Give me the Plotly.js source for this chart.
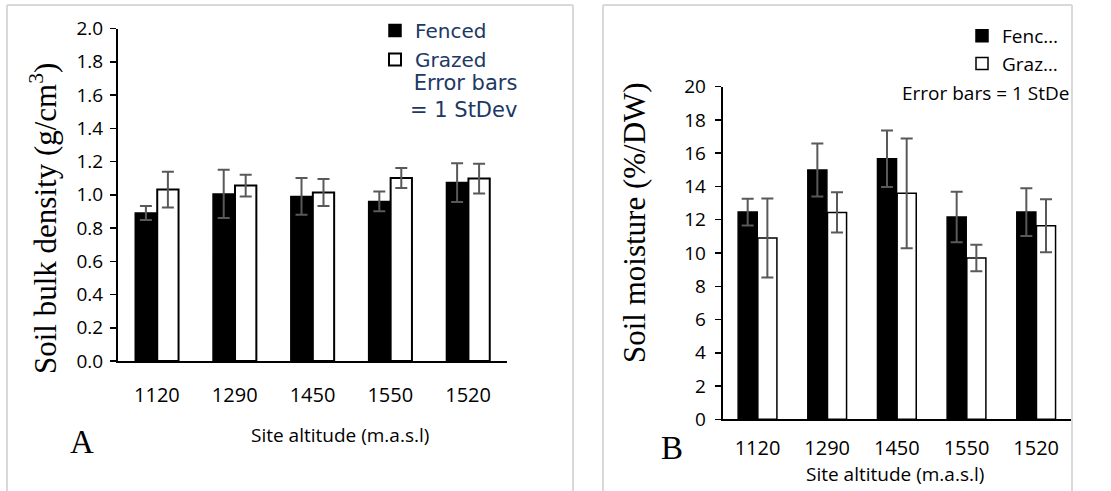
<!DOCTYPE html>
<html>
<head>
<meta charset="utf-8">
<script src="https://cdn.plot.ly/plotly-3.0.1.min.js"></script>
<style>html,body{margin:0;padding:0;background:#fff;}#chart{width:1111px;height:491px;}</style>
</head>
<body>
<div id="chart"></div>
<script>
// ---- data ----
const sites = ["1120", "1290", "1450", "1550", "1520"];
const densityFenced = [0.89, 1.005, 0.99, 0.96, 1.073];
const densityFencedSD = [0.042, 0.145, 0.111, 0.059, 0.117];
const densityGrazed = [1.031, 1.055, 1.013, 1.101, 1.097];
const densityGrazedSD = [0.107, 0.066, 0.081, 0.060, 0.090];
const moistureFenced = [12.46, 14.99, 15.67, 12.16, 12.46];
const moistureFencedSD = [0.80, 1.60, 1.70, 1.52, 1.44];
const moistureGrazed = [10.90, 12.44, 13.59, 9.70, 11.64];
const moistureGrazedSD = [2.38, 1.21, 3.30, 0.80, 1.59];

// ---- layout helpers (pixels -> paper) ----
const W = 1111, H = 491;
const px = x => x / W;
const py = y => 1 - y / H;

const errStyle = (arr) => ({type: 'data', array: arr, visible: true, color: '#595959', thickness: 2, width: 6});

const traces = [
  {type: 'bar', name: 'Fenced', x: sites, y: densityFenced, error_y: errStyle(densityFencedSD),
   marker: {color: '#000000', line: {color: '#000000', width: 1.5}}, xaxis: 'x', yaxis: 'y', legend: 'legend'},
  {type: 'bar', name: 'Grazed', x: sites, y: densityGrazed, error_y: errStyle(densityGrazedSD),
   marker: {color: '#ffffff', line: {color: '#000000', width: 2}}, xaxis: 'x', yaxis: 'y', legend: 'legend'},
  {type: 'bar', name: 'Fenc…', x: sites, y: moistureFenced, error_y: errStyle(moistureFencedSD),
   marker: {color: '#000000', line: {color: '#000000', width: 1.5}}, xaxis: 'x2', yaxis: 'y2', legend: 'legend2'},
  {type: 'bar', name: 'Graz…', x: sites, y: moistureGrazed, error_y: errStyle(moistureGrazedSD),
   marker: {color: '#ffffff', line: {color: '#000000', width: 1.5}}, xaxis: 'x2', yaxis: 'y2', legend: 'legend2'}
];

const tickFontX = {family: 'Open Sans', size: 20, color: '#000'};
const tickFontY = {family: 'Open Sans', size: 19, color: '#000'};
const serif = {family: 'Liberation Serif, Times New Roman, serif', size: 31, color: '#000'};
const sans19 = {family: 'Open Sans', size: 19, color: '#000'};

const lineGray = '#d9d9d9';
const border = (x0, y0, x1, y1) => ({type: 'line', xref: 'paper', yref: 'paper',
  x0: px(x0), y0: py(y0), x1: px(x1), y1: py(y1), line: {color: lineGray, width: 2}});
const note = (x, y, text, font, extra) => Object.assign({xref: 'paper', yref: 'paper', x: px(x), y: py(y),
  xanchor: 'center', yanchor: 'middle', showarrow: false, text: text, font: font}, extra || {});

const layout = {
  width: W, height: H,
  margin: {l: 0, r: 0, t: 0, b: 0},
  paper_bgcolor: '#fff', plot_bgcolor: 'rgba(0,0,0,0)',
  barmode: 'group', bargap: 0.435, bargroupgap: 0.03,
  showlegend: true,
  xaxis: {domain: [px(118), px(507)], anchor: 'y', type: 'category',
    showline: true, linecolor: '#000', linewidth: 2, ticks: '', showgrid: false,
    tickfont: tickFontX, ticklabelstandoff: 15},
  yaxis: {domain: [py(361), py(28.5)], anchor: 'x', range: [0, 2], dtick: 0.2, tickformat: '.1f',
    showline: true, linecolor: '#000', linewidth: 2, ticks: 'outside', ticklen: 6, tickwidth: 1.5, tickcolor: '#000',
    showgrid: false, zeroline: false, tickfont: tickFontY, ticklabelstandoff: 3},
  xaxis2: {domain: [px(722.7), px(1071)], anchor: 'y2', type: 'category',
    showline: true, linecolor: '#000', linewidth: 2, ticks: '', showgrid: false,
    tickfont: tickFontX, ticklabelstandoff: 10},
  yaxis2: {domain: [py(419.3), py(86.7)], anchor: 'x2', range: [0, 20], dtick: 2,
    showline: true, linecolor: '#000', linewidth: 2, ticks: 'outside', ticklen: 6, tickwidth: 1.5, tickcolor: '#000',
    showgrid: false, zeroline: false, tickfont: tickFontY, ticklabelstandoff: 5},
  legend: {x: px(375), y: py(11), xanchor: 'left', yanchor: 'top', bgcolor: 'rgba(0,0,0,0)',
    font: {family: 'DejaVu Sans', size: 20, color: '#203864'}, traceorder: 'normal'},
  legend2: {x: px(962), y: py(17), xanchor: 'left', yanchor: 'top', bgcolor: 'rgba(0,0,0,0)',
    font: {family: 'Open Sans', size: 19, color: '#000'}, traceorder: 'normal'},
  shapes: [
    border(7, 5, 7, 491), border(7, 5, 573, 5), border(573, 5, 573, 491),
    border(603, 5, 603, 491), border(603, 5, 1072, 5), border(1072, 5, 1072, 491)
  ],
  annotations: [
    note(519, 96, 'Error bars<br>= 1 StDev', {family: 'DejaVu Sans', size: 21, color: '#203864'},
      {xanchor: 'right', align: 'right'}),
    note(900, 93, 'Error bars = 1 StDe', sans19, {xanchor: 'left'}),
    note(43, 219, 'Soil bulk density (g/cm<sup>3</sup>)', serif, {textangle: -90}),
    note(634, 223, 'Soil moisture (%/DW)', serif, {textangle: -90}),
    note(340, 435, 'Site altitude (m.a.s.l)', sans19),
    note(895, 474, 'Site altitude (m.a.s.l)', sans19),
    note(82, 442, 'A', {family: 'Liberation Serif, serif', size: 33, color: '#000'}),
    note(672, 448, 'B', {family: 'Liberation Serif, serif', size: 33, color: '#000'})
  ]
};

Plotly.newPlot('chart', traces, layout, {displayModeBar: false, staticPlot: true});
</script>
</body>
</html>
